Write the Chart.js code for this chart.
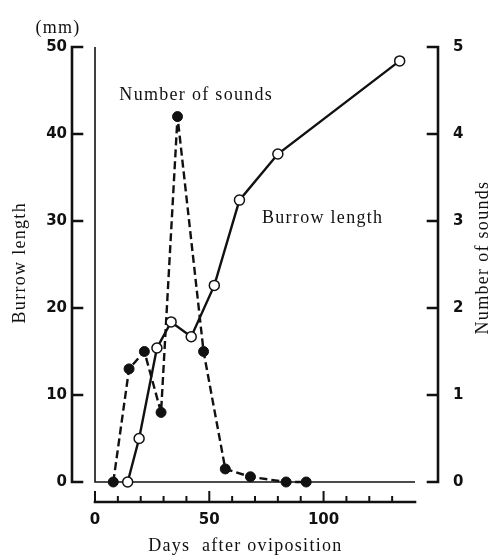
<!DOCTYPE html>
<html>
<head>
<meta charset="utf-8">
<title>Burrow length and number of sounds</title>
<script src="https://cdn.jsdelivr.net/npm/chart.js@4.4.1/dist/chart.umd.min.js"></script>
<style>
  html, body { margin: 0; padding: 0; background: #fff; }
  canvas { display: block; }
</style>
</head>
<body>
<canvas id="chart" width="500" height="558"></canvas>
<script>
// Burrow length (mm) against days after oviposition
const burrowDays = [14.3, 19.3, 27.1, 33.3, 42.1, 52.2, 63.2, 80.0, 133.3];
const burrowLength = [0, 5.0, 15.4, 18.4, 16.7, 22.6, 32.4, 37.7, 48.4];

// Number of sounds against days after oviposition
const soundDays = [8, 14.9, 21.6, 28.9, 36.1, 47.5, 57, 68, 83.6, 92.4];
const soundCount = [0, 1.3, 1.5, 0.8, 4.2, 1.5, 0.15, 0.06, 0, 0];

// Axis ticks
const dayTicks = [0, 50, 100];
const dayMinorTicks = [10, 20, 30, 40, 60, 70, 80, 90, 110, 120, 130];
const lengthTicks = [0, 10, 20, 30, 40, 50];
const soundTicks = [0, 1, 2, 3, 4, 5];

const INK = '#111';
const tickFont = { family: '"DejaVu Sans", sans-serif', size: 15, weight: 'bold' };
const textFont = '18px "Liberation Serif", "Times New Roman", serif';

function toPoints(xs, ys) {
    return xs.map(function(x, i) { return { x: x, y: ys[i] }; });
}

// Axes in the figure are drawn apart from the plot frame, so draw them here
const offsetAxes = {
    id: 'offsetAxes',
    beforeDatasetsDraw(chart) {
        const ctx = chart.ctx;
        const area = chart.chartArea;
        const x = chart.scales.x;
        const yl = chart.scales.yLength;
        const yr = chart.scales.ySounds;
        const x0 = x.getPixelForValue(0);
        const xEnd = x.getPixelForValue(140);

        ctx.save();
        ctx.strokeStyle = INK;

        // plot frame (left side and zero line)
        ctx.lineWidth = 1.6;
        ctx.beginPath();
        ctx.moveTo(x0, yl.getPixelForValue(50));
        ctx.lineTo(x0, yl.getPixelForValue(0));
        ctx.lineTo(xEnd, yl.getPixelForValue(0));
        ctx.stroke();

        ctx.lineWidth = 2.6;
        ctx.lineCap = 'square';

        // left axis, ticks pointing in
        const lx = area.left - 23;
        ctx.beginPath();
        ctx.moveTo(lx, yl.getPixelForValue(0));
        ctx.lineTo(lx, yl.getPixelForValue(50));
        lengthTicks.forEach(function(v) {
            const p = yl.getPixelForValue(v);
            ctx.moveTo(lx, p);
            ctx.lineTo(lx + 10, p);
        });
        ctx.stroke();

        // right axis, ticks pointing in
        const rx = area.right + 23;
        ctx.beginPath();
        ctx.moveTo(rx, yr.getPixelForValue(0));
        ctx.lineTo(rx, yr.getPixelForValue(5));
        soundTicks.forEach(function(v) {
            const p = yr.getPixelForValue(v);
            ctx.moveTo(rx, p);
            ctx.lineTo(rx - 10, p);
        });
        ctx.stroke();

        // bottom axis, ticks pointing up
        const by = area.bottom + 20;
        ctx.beginPath();
        ctx.moveTo(x0, by);
        ctx.lineTo(xEnd, by);
        ctx.stroke();
        ctx.lineWidth = 2;
        ctx.beginPath();
        dayTicks.forEach(function(v) {
            const p = x.getPixelForValue(v);
            ctx.moveTo(p, by);
            ctx.lineTo(p, by - 10);
        });
        dayMinorTicks.forEach(function(v) {
            const p = x.getPixelForValue(v);
            ctx.moveTo(p, by);
            ctx.lineTo(p, by - 5);
        });
        ctx.stroke();
        ctx.restore();
    },
    afterDraw(chart) {
        const ctx = chart.ctx;
        const area = chart.chartArea;
        const x = chart.scales.x;
        const yl = chart.scales.yLength;
        const yr = chart.scales.ySounds;

        ctx.save();
        ctx.fillStyle = INK;
        ctx.font = textFont;
        ctx.letterSpacing = '1.3px';
        ctx.textAlign = 'center';
        ctx.textBaseline = 'middle';

        ctx.fillText('(mm)', area.left - 37, yl.getPixelForValue(50) - 19);
        ctx.fillText('Number of sounds', x.getPixelForValue(44.3), yr.getPixelForValue(4.44));
        ctx.fillText('Burrow length', x.getPixelForValue(99.6), yl.getPixelForValue(30.3));
        ctx.fillText('Days  after oviposition', x.getPixelForValue(65.8), area.bottom + 64);

        // rotated axis titles
        ctx.save();
        ctx.translate(20, yl.getPixelForValue(25.2));
        ctx.rotate(-Math.PI / 2);
        ctx.fillText('Burrow length', 0, 0);
        ctx.restore();

        ctx.save();
        ctx.translate(483, yr.getPixelForValue(2.58));
        ctx.rotate(-Math.PI / 2);
        ctx.fillText('Number of sounds', 0, 0);
        ctx.restore();

        ctx.restore();
    }
};

new Chart(document.getElementById('chart'), {
    type: 'line',
    data: {
        datasets: [{
            label: 'Burrow length',
            data: toPoints(burrowDays, burrowLength),
            yAxisID: 'yLength',
            borderColor: INK,
            borderWidth: 2.4,
            pointRadius: 5,
            pointBorderWidth: 1.5,
            pointBackgroundColor: '#fff',
            pointBorderColor: INK,
            tension: 0,
            clip: false
        }, {
            label: 'Number of sounds',
            data: toPoints(soundDays, soundCount),
            yAxisID: 'ySounds',
            borderColor: INK,
            borderWidth: 2.4,
            borderDash: [8, 4],
            pointRadius: 5,
            pointBorderWidth: 1,
            pointBackgroundColor: INK,
            pointBorderColor: INK,
            tension: 0,
            clip: false
        }]
    },
    options: {
        responsive: false,
        animation: false,
        layout: { padding: { top: 32, left: 0, right: 0, bottom: 0 } },
        plugins: {
            legend: { display: false },
            tooltip: { enabled: false }
        },
        scales: {
            x: {
                type: 'linear',
                min: 0,
                max: 140,
                grid: { display: false, drawTicks: false },
                border: { display: false },
                ticks: { color: INK, font: tickFont, padding: 29, maxRotation: 0 },
                afterBuildTicks: function(scale) {
                    scale.ticks = dayTicks.map(function(v) { return { value: v }; });
                },
                afterFit: function(scale) { scale.height = 76; }
            },
            yLength: {
                type: 'linear',
                position: 'left',
                min: 0,
                max: 50,
                grid: { display: false, drawTicks: false },
                border: { display: false },
                ticks: { color: INK, font: tickFont, padding: 28 },
                afterBuildTicks: function(scale) {
                    scale.ticks = lengthTicks.map(function(v) { return { value: v }; });
                },
                afterFit: function(scale) { scale.width = 95; }
            },
            ySounds: {
                type: 'linear',
                position: 'right',
                min: 0,
                max: 5,
                grid: { display: false, drawTicks: false },
                border: { display: false },
                ticks: { color: INK, font: tickFont, padding: 38 },
                afterBuildTicks: function(scale) {
                    scale.ticks = soundTicks.map(function(v) { return { value: v }; });
                },
                afterFit: function(scale) { scale.width = 85; }
            }
        }
    },
    plugins: [offsetAxes]
});
</script>
</body>
</html>
